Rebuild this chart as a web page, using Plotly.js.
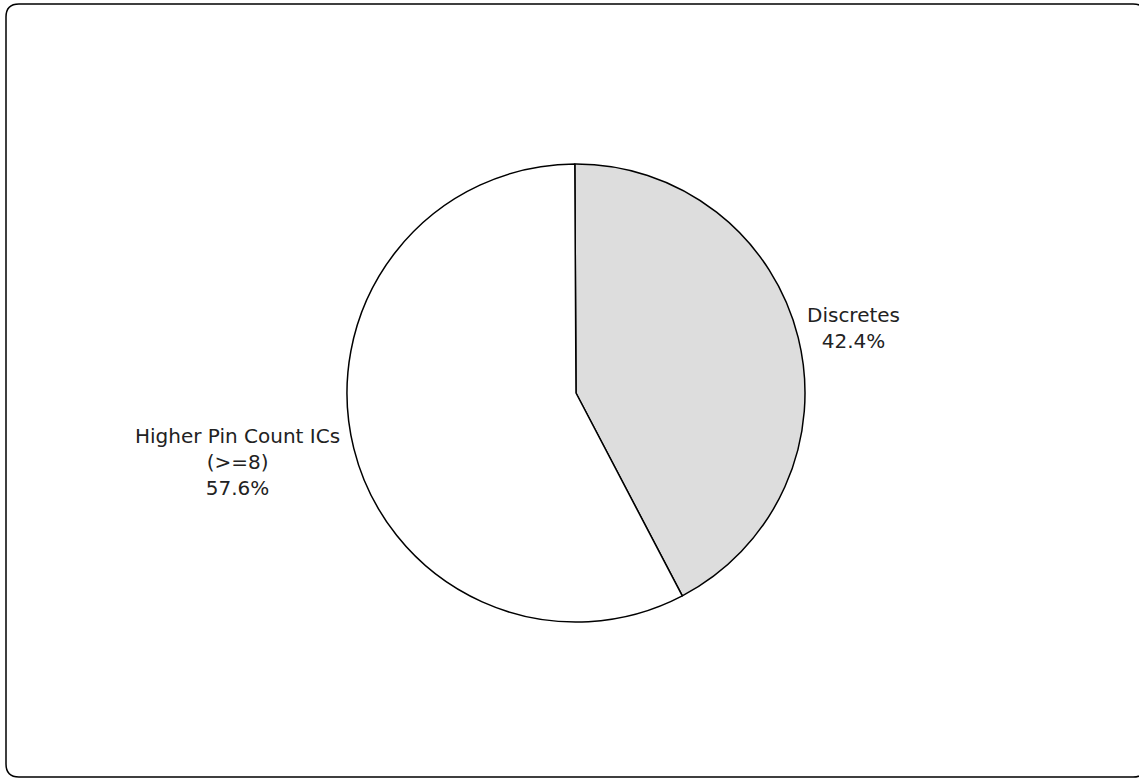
<!DOCTYPE html>
<html>
<head>
<meta charset="utf-8">
<script src="https://cdn.plot.ly/plotly-3.0.1.min.js"></script>
<style>html,body{margin:0;padding:0;background:#fff;}#chart{width:1139px;height:780px;}</style>
</head>
<body>
<div id="chart"></div>
<script>
var labels = ["Discretes", "Higher Pin Count ICs<br>(>=8)"];
var values = [42.4, 57.6];
var colors = ["#dddddd", "#ffffff"];

var W = 1139, H = 780;
function px(x){ return x / W; }
function py(y){ return 1 - y / H; }
// rounded frame path in paper coordinates
var x0 = 6, y0 = 4, x1 = 1146, y1 = 777, r = 13;
var path = "M" + px(x0 + r) + "," + py(y0) +
  " L" + px(x1 - r) + "," + py(y0) +
  " Q" + px(x1) + "," + py(y0) + " " + px(x1) + "," + py(y0 + r) +
  " L" + px(x1) + "," + py(y1 - r) +
  " Q" + px(x1) + "," + py(y1) + " " + px(x1 - r) + "," + py(y1) +
  " L" + px(x0 + r) + "," + py(y1) +
  " Q" + px(x0) + "," + py(y1) + " " + px(x0) + "," + py(y1 - r) +
  " L" + px(x0) + "," + py(y0 + r) +
  " Q" + px(x0) + "," + py(y0) + " " + px(x0 + r) + "," + py(y0) + " Z";

var cx = 576, cy = 393, rad = 229;
var trace = {
  type: "pie",
  labels: labels,
  values: values,
  sort: false,
  direction: "clockwise",
  rotation: -0.3,
  marker: { colors: colors, line: { color: "#000000", width: 1.5 } },
  textinfo: "none",
  hoverinfo: "label+percent",
  showlegend: false,
  automargin: false,
  domain: { x: [px(cx - 340), px(cx + 340)], y: [py(cy + rad), py(cy - rad)] }
};

var total = values.reduce(function(a, b){ return a + b; }, 0);
var labelPos = [[853, 328], [237, 462]];
var annotations = labels.map(function(l, i){
  return {
    xref: "paper", yref: "paper",
    x: px(labelPos[i][0]), y: py(labelPos[i][1]),
    xanchor: "center", yanchor: "middle", align: "center",
    showarrow: false,
    text: l + "<br>" + (values[i] / total * 100).toFixed(1) + "%",
    font: { family: "DejaVu Sans", size: 20, color: "#222222" }
  };
});

var layout = {
  width: W, height: H,
  margin: { l: 0, r: 0, t: 0, b: 0 },
  paper_bgcolor: "#ffffff",
  font: { family: "DejaVu Sans", color: "#222222" },
  showlegend: false,
  annotations: annotations,
  shapes: [{ type: "path", xref: "paper", yref: "paper", path: path,
             line: { color: "#000000", width: 1.5 }, fillcolor: "rgba(0,0,0,0)", layer: "below" }]
};

Plotly.newPlot("chart", [trace], layout, { displayModeBar: false, staticPlot: true });
</script>
</body>
</html>
